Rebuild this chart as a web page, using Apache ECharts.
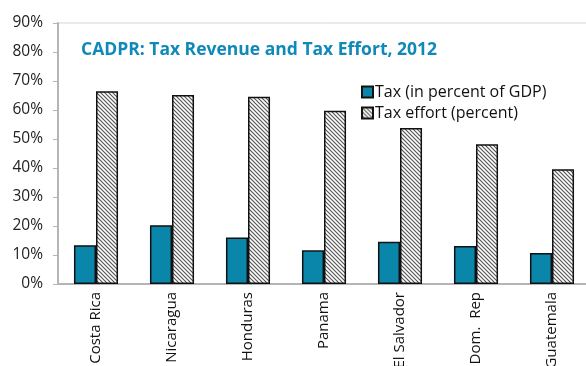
<!DOCTYPE html>
<html>
<head>
<meta charset="utf-8">
<script src="https://cdn.jsdelivr.net/npm/echarts@6/dist/echarts.min.js"></script>
<style>
  html, body { margin: 0; padding: 0; background: #fff; }
  #chart { width: 586px; height: 366px; }
</style>
</head>
<body>
<div id="chart"></div>
<script>
// Central America, Panama and Dominican Republic: tax revenue vs. tax effort, 2012
const countries = ['Costa Rica', 'Nicaragua', 'Honduras', 'Panama', 'El Salvador', 'Dom.  Rep', 'Guatemala'];
const taxRevenue = [13.4, 20.3, 16.0, 11.6, 14.6, 13.1, 10.7];   // percent of GDP
const taxEffort = [66.5, 65.2, 64.6, 59.7, 53.8, 48.2, 39.6];    // percent
const seriesNames = ['Tax (in percent of GDP)', 'Tax effort (percent)'];
const titleText = 'CADPR: Tax Revenue and Tax Effort, 2012';

// diagonal hatch fill for the tax effort bars
function hatchPattern() {
  const c = document.createElement('canvas');
  c.width = 4; c.height = 4;
  const g = c.getContext('2d');
  g.fillStyle = '#ffffff';
  g.fillRect(0, 0, 4, 4);
  g.strokeStyle = '#555555';
  g.lineWidth = 1.2;
  g.beginPath();
  g.moveTo(-1, -1); g.lineTo(5, 5);
  g.moveTo(-1, 3); g.lineTo(1, 5);
  g.moveTo(3, -1); g.lineTo(5, 1);
  g.stroke();
  return { image: c, repeat: 'repeat' };
}

const chart = echarts.init(document.getElementById('chart'), null, { renderer: 'canvas' });
const font = '"Open Sans", "DejaVu Sans", sans-serif';

chart.setOption({
  animation: false,
  backgroundColor: '#ffffff',
  title: {
    text: titleText,
    left: 76,
    top: 36,
    textStyle: { fontFamily: font, fontSize: 17.5, fontWeight: 'bold', color: '#0f8ab8' }
  },
  legend: {
    orient: 'vertical',
    left: 356,
    top: 79,
    itemWidth: 11,
    itemHeight: 11,
    itemGap: 5,
    icon: 'rect',
    textStyle: { fontFamily: font, fontSize: 16, color: '#111', padding: [0, 0, 0, -3] },
    data: seriesNames
  },
  grid: {
    left: 58,
    top: 23,
    width: 532,
    height: 261,
    show: true,
    borderColor: '#d6d6d6',
    borderWidth: 1,
    containLabel: false,
    outerBoundsMode: 'none'
  },
  xAxis: {
    type: 'category',
    data: countries,
    axisLine: { lineStyle: { color: '#b5b5b5', width: 2 } },
    axisTick: { inside: true, length: 4, lineStyle: { color: '#b5b5b5', width: 1 } },
    axisLabel: {
      rotate: 90,
      margin: 8,
      fontFamily: font,
      fontSize: 15,
      color: '#111',
      interval: 0
    }
  },
  yAxis: {
    type: 'value',
    min: 0,
    max: 90,
    interval: 10,
    axisLine: { show: true, lineStyle: { color: '#b5b5b5', width: 2 } },
    axisTick: { show: true, length: 5, lineStyle: { color: '#b5b5b5' } },
    splitLine: { show: false },
    axisLabel: {
      formatter: '{value}%',
      margin: 15,
      fontFamily: font,
      fontSize: 15.5,
      color: '#222'
    }
  },
  series: [
    {
      name: seriesNames[0],
      type: 'bar',
      data: taxRevenue,
      barGap: '0%',
      barCategoryGap: '42%',
      itemStyle: { color: '#0a86aa', borderColor: '#111', borderWidth: 1.5 }
    },
    {
      name: seriesNames[1],
      type: 'bar',
      data: taxEffort,
      barGap: '0%',
      barCategoryGap: '42%',
      itemStyle: { color: hatchPattern(), borderColor: '#111', borderWidth: 1.5 }
    }
  ]
});
</script>
</body>
</html>
